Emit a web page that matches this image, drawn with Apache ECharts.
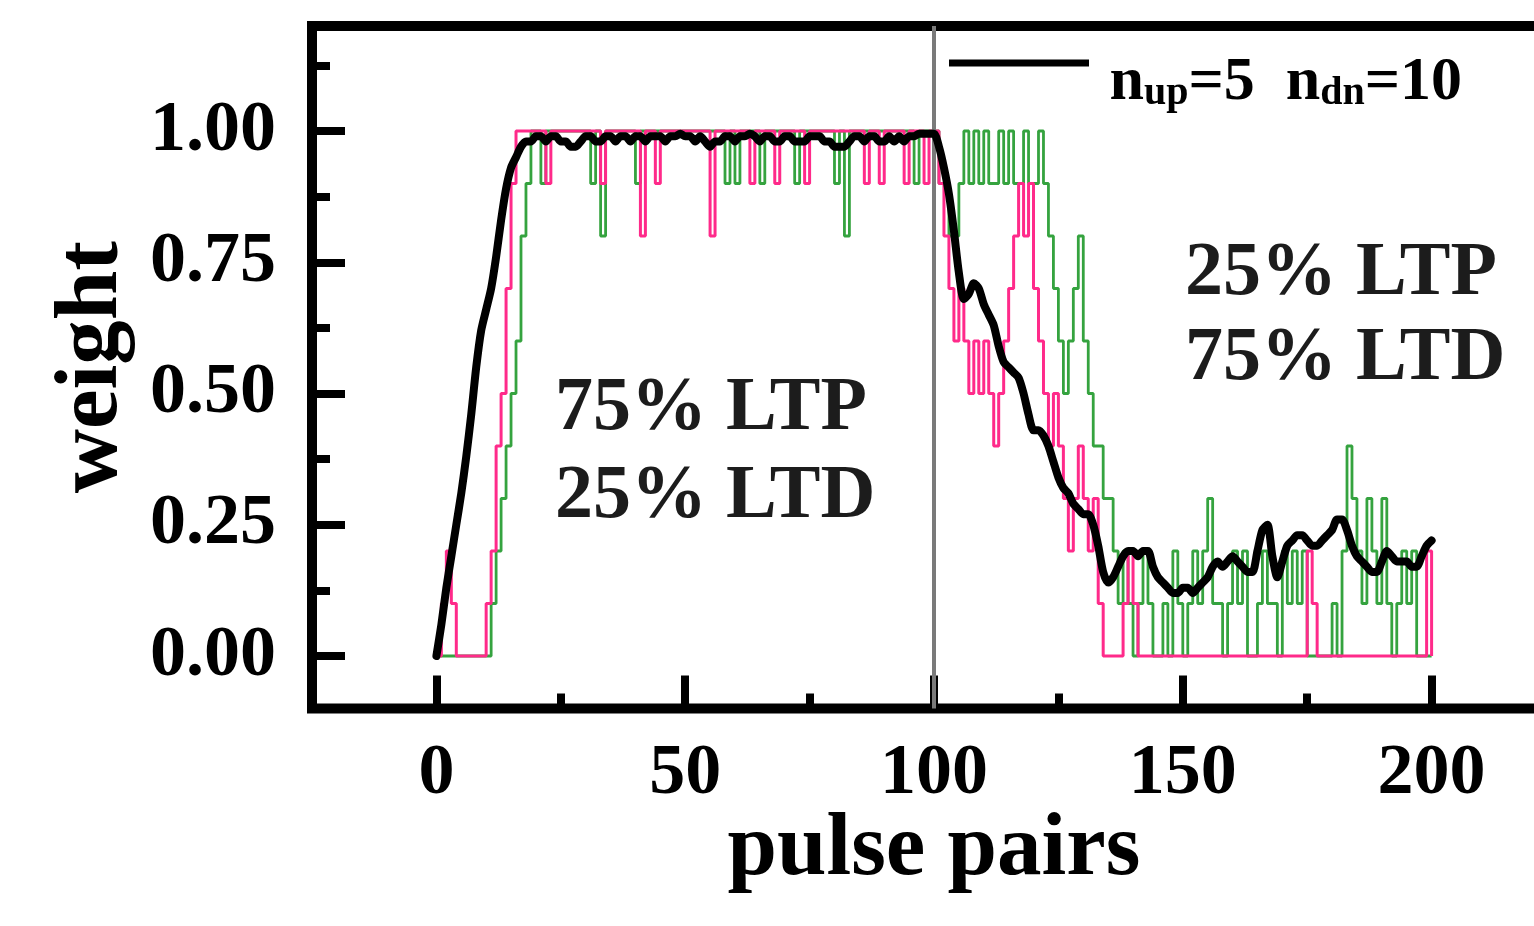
<!DOCTYPE html>
<html>
<head>
<meta charset="utf-8">
<script src="https://cdn.jsdelivr.net/npm/echarts@6/dist/echarts.min.js"></script>
<style>
  html, body { margin: 0; padding: 0; background: #ffffff; }
  #chart { width: 1534px; height: 926px; }
</style>
</head>
<body>
<div id="chart"></div>
<script>
// Axis ticks and labels
const X_TICKS = [0, 50, 100, 150, 200];
const X_MINOR = [25, 75, 125, 175];
const Y_TICKS = [0, 0.25, 0.5, 0.75, 1];
const Y_MINOR = [0.125, 0.375, 0.625, 0.875, 1.125];
const X_NAME = 'pulse pairs';
const Y_NAME = 'weight';

// Pulse pair where the stimulus ratio is switched
const SWITCH_AT = 100;

// Text blocks describing the two stimulus regimes
const NOTE_LEFT = '75% LTP\n25% LTD';
const NOTE_RIGHT = '25% LTP\n75% LTD';

// Single-device weight traces (one value per pulse pair, 0..200)
const PINK = [
  0, 0.1, 0.2, 0.1, 0, 0, 0, 0, 0, 0,
  0.1, 0.2, 0.4, 0.5, 0.7, 0.9, 1, 1, 1, 1,
  1, 1, 0.9, 1, 1, 1, 1, 1, 1, 1,
  1, 1, 1, 0.9, 1, 1, 1, 1, 1, 1,
  1, 0.8, 1, 1, 0.9, 1, 1, 1, 1, 1,
  1, 1, 1, 1, 1, 0.8, 1, 1, 1, 1,
  1, 1, 1, 0.9, 1, 1, 1, 1, 0.9, 1,
  1, 1, 1, 1, 0.9, 1, 1, 1, 1, 1,
  1, 1, 1, 1, 1, 1, 0.9, 1, 1, 0.9,
  1, 1, 1, 1, 0.9, 1, 1, 1, 0.9, 1,
  1, 0.9, 0.8, 0.7, 0.6, 0.7, 0.6, 0.5, 0.6, 0.5,
  0.6, 0.5, 0.4, 0.5, 0.6, 0.7, 0.8, 0.9, 0.8, 0.9,
  0.7, 0.6, 0.5, 0.4, 0.5, 0.4, 0.3, 0.2, 0.3, 0.4,
  0.3, 0.2, 0.3, 0.1, 0, 0, 0, 0, 0.1, 0.2,
  0.1, 0, 0, 0, 0, 0, 0, 0, 0, 0,
  0, 0, 0, 0, 0, 0, 0, 0, 0, 0,
  0, 0, 0, 0, 0, 0, 0, 0, 0, 0,
  0, 0, 0, 0, 0, 0.2, 0.1, 0, 0, 0,
  0, 0, 0, 0, 0, 0, 0, 0, 0, 0,
  0, 0, 0, 0, 0, 0, 0, 0, 0, 0.2,
  0
];

const GREEN = [
  0, 0, 0, 0, 0, 0, 0, 0, 0, 0,
  0, 0.1, 0.2, 0.3, 0.4, 0.5, 0.6, 0.8, 0.9, 1,
  1, 0.9, 1, 1, 1, 1, 1, 1, 1, 1,
  1, 0.9, 1, 0.8, 1, 1, 1, 1, 1, 1,
  0.9, 1, 1, 1, 1, 1, 1, 1, 1, 1,
  1, 1, 1, 1, 1, 1, 1, 1, 0.9, 1,
  0.9, 1, 1, 1, 1, 0.9, 1, 1, 1, 1,
  1, 1, 0.9, 1, 1, 1, 1, 1, 1, 1,
  0.9, 1, 0.8, 1, 1, 1, 1, 1, 1, 1,
  1, 1, 1, 1, 1, 1, 0.9, 1, 1, 1,
  1, 0.9, 0.9, 0.8, 0.8, 0.9, 1, 0.9, 1, 0.9,
  1, 0.9, 0.9, 1, 0.9, 1, 0.9, 0.9, 1, 0.9,
  0.9, 1, 0.9, 0.8, 0.7, 0.6, 0.5, 0.6, 0.7, 0.8,
  0.6, 0.5, 0.4, 0.4, 0.3, 0.3, 0.2, 0.1, 0.2, 0.1,
  0, 0.1, 0.2, 0.1, 0, 0, 0.1, 0, 0.2, 0.1,
  0, 0.1, 0.2, 0.1, 0.2, 0.3, 0.1, 0.1, 0, 0.1,
  0.2, 0.1, 0.2, 0, 0, 0.1, 0.2, 0.1, 0.1, 0,
  0.2, 0.1, 0.2, 0.1, 0.2, 0, 0, 0, 0, 0,
  0.1, 0, 0.2, 0.4, 0.3, 0.2, 0.1, 0.3, 0.2, 0.1,
  0.3, 0.1, 0, 0.1, 0.2, 0.1, 0.2, 0, 0, 0,
  0
];

// Averaged weight for n_up = 5, n_dn = 10
const AVG = [
  0.00, 0.06, 0.13, 0.19, 0.25, 0.31, 0.38, 0.46, 0.55, 0.62,
  0.66, 0.70, 0.76, 0.83, 0.89, 0.93, 0.95, 0.97, 0.98, 0.98,
  0.99, 0.99, 0.98, 0.99, 0.99, 0.98, 0.98, 0.97, 0.97, 0.98,
  0.99, 0.99, 0.98, 0.98, 0.99, 0.99, 0.98, 0.99, 0.99, 0.98,
  0.99, 0.99, 0.98, 0.99, 0.99, 0.99, 0.98, 0.99, 0.99, 0.995,
  0.99, 0.99, 0.98, 0.99, 0.98, 0.97, 0.98, 0.98, 0.99, 0.99,
  0.98, 0.99, 0.99, 0.995, 0.99, 0.98, 0.99, 0.99, 0.98, 0.98,
  0.99, 0.99, 0.98, 0.98, 0.98, 0.99, 0.99, 0.99, 0.98, 0.98,
  0.97, 0.97, 0.97, 0.98, 0.99, 0.99, 0.98, 0.99, 0.99, 0.98,
  0.98, 0.99, 0.98, 0.99, 0.98, 0.99, 0.99, 0.995, 0.995, 0.995,
  0.995, 0.97, 0.93, 0.88, 0.81, 0.73, 0.68, 0.69, 0.71, 0.70,
  0.67, 0.65, 0.63, 0.59, 0.56, 0.55, 0.54, 0.53, 0.50, 0.46,
  0.43, 0.43, 0.42, 0.40, 0.37, 0.34, 0.32, 0.31, 0.29, 0.28,
  0.27, 0.27, 0.25, 0.21, 0.16, 0.14, 0.15, 0.17, 0.19, 0.20,
  0.20, 0.19, 0.20, 0.20, 0.17, 0.15, 0.14, 0.13, 0.12, 0.12,
  0.13, 0.13, 0.12, 0.13, 0.14, 0.15, 0.17, 0.18, 0.17, 0.18,
  0.19, 0.18, 0.17, 0.16, 0.16, 0.20, 0.24, 0.25, 0.19, 0.15,
  0.18, 0.21, 0.22, 0.23, 0.23, 0.22, 0.21, 0.21, 0.22, 0.23,
  0.24, 0.26, 0.26, 0.24, 0.21, 0.19, 0.18, 0.17, 0.16, 0.16,
  0.18, 0.20, 0.19, 0.18, 0.18, 0.18, 0.17, 0.17, 0.19, 0.21,
  0.22
];

const AVG_NAME = 'n_up=5 n_dn=10';
const FONT = '"Liberation Serif", "Times New Roman", serif';

const toPairs = arr => arr.map((v, i) => [i, v]);

const GRID_BOX = { left: 312, top: 26, width: 1244, height: 682.5, outerBoundsMode: 'none', containLabel: false };

// Legend key: a thick bar sitting at the top of a taller (otherwise empty) icon box
const LEGEND_ICON = 'path://M0,0H140V7H0Z M0,46.9H0.1V47H0Z';

const chart = echarts.init(document.getElementById('chart'), null, { renderer: 'canvas' });

const option = {
  animation: false,
  backgroundColor: '#ffffff',
  grid: [
    Object.assign({ show: true, borderColor: '#000', borderWidth: 10, backgroundColor: 'rgba(0,0,0,0)' }, GRID_BOX),
    Object.assign({ show: false }, GRID_BOX)
  ],
  xAxis: [
    {
      type: 'value', gridIndex: 0, min: -25, max: 225,
      axisLine: { show: false, onZero: false },
      splitLine: { show: false },
      axisTick: { inside: true, length: 33, lineStyle: { color: '#000', width: 8 }, customValues: X_TICKS },
      axisLabel: {
        customValues: X_TICKS, margin: 30, color: '#000',
        fontFamily: FONT, fontWeight: 'bold', fontSize: 72
      },
      name: X_NAME, nameLocation: 'middle', nameGap: 98, nameMoveOverlap: false,
      nameTextStyle: { color: '#000', fontFamily: FONT, fontWeight: 'bold', fontSize: 89 }
    },
    {
      type: 'value', gridIndex: 1, min: -25, max: 225,
      axisLine: { show: false, onZero: false }, splitLine: { show: false }, axisLabel: { show: false },
      axisTick: { inside: true, length: 15, lineStyle: { color: '#000', width: 8 }, customValues: X_MINOR }
    }
  ],
  yAxis: [
    {
      type: 'value', gridIndex: 0, min: -0.1, max: 1.2,
      axisLine: { show: false, onZero: false },
      splitLine: { show: false },
      axisTick: { inside: true, length: 33, lineStyle: { color: '#000', width: 8 }, customValues: Y_TICKS },
      axisLabel: {
        customValues: Y_TICKS, margin: 36, color: '#000',
        fontFamily: FONT, fontWeight: 'bold', fontSize: 72,
        formatter: v => v.toFixed(2)
      },
      name: Y_NAME, nameLocation: 'middle', nameGap: 174, nameMoveOverlap: false,
      nameTextStyle: { color: '#000', fontFamily: FONT, fontWeight: 'bold', fontSize: 89 }
    },
    {
      type: 'value', gridIndex: 1, min: -0.1, max: 1.2,
      axisLine: { show: false, onZero: false }, splitLine: { show: false }, axisLabel: { show: false },
      axisTick: { inside: true, length: 18, lineStyle: { color: '#000', width: 8 }, customValues: Y_MINOR }
    }
  ],
  legend: {
    data: [AVG_NAME],
    left: 944, top: 29,
    icon: LEGEND_ICON, itemWidth: 140, itemHeight: 47, symbolKeepAspect: false,
    selectedMode: false,
    formatter: () => '{n| n}{s|up}{n|=5  n}{s|dn}{n|=10}',
    textStyle: {
      color: '#000',
      rich: {
        n: { fontFamily: FONT, fontWeight: 'bold', fontSize: 62, color: '#000', lineHeight: 62 },
        s: { fontFamily: FONT, fontWeight: 'bold', fontSize: 40, color: '#000', lineHeight: 40,
             verticalAlign: 'bottom', padding: [40, 0, 0, 0] }
      }
    }
  },
  graphic: [
    {
      type: 'text', left: 555, top: 365, silent: true,
      style: { text: NOTE_LEFT, font: 'bold 76px "Liberation Serif", serif', lineHeight: 88, fill: '#1c1c1c' }
    },
    {
      type: 'text', left: 1185, top: 232, silent: true,
      style: { text: NOTE_RIGHT, font: 'bold 76px "Liberation Serif", serif', lineHeight: 85, fill: '#1c1c1c' }
    }
  ],
  series: [
    {
      name: 'green', type: 'line', step: 'end', xAxisIndex: 0, yAxisIndex: 0,
      data: toPairs(GREEN), showSymbol: false, z: 2,
      lineStyle: { color: '#35a33f', width: 2.8 }, itemStyle: { color: '#35a33f' },
      emphasis: { disabled: true }
    },
    {
      name: 'pink', type: 'line', step: 'end', xAxisIndex: 0, yAxisIndex: 0,
      data: toPairs(PINK), showSymbol: false, z: 3,
      lineStyle: { color: '#ff2a8a', width: 3 }, itemStyle: { color: '#ff2a8a' },
      emphasis: { disabled: true },
      markLine: {
        silent: true, symbol: 'none', label: { show: false },
        lineStyle: { color: '#7a7a7a', width: 4, type: 'solid' },
        emphasis: { disabled: true },
        data: [{ xAxis: SWITCH_AT }]
      }
    },
    {
      name: AVG_NAME, type: 'line', xAxisIndex: 0, yAxisIndex: 0,
      data: toPairs(AVG), showSymbol: false, z: 5, smooth: 0.25,
      lineStyle: { color: '#000', width: 8, cap: 'round', join: 'round' },
      itemStyle: { color: '#000' },
      emphasis: { disabled: true }
    }
  ]
};

chart.setOption(option);
</script>
</body>
</html>
